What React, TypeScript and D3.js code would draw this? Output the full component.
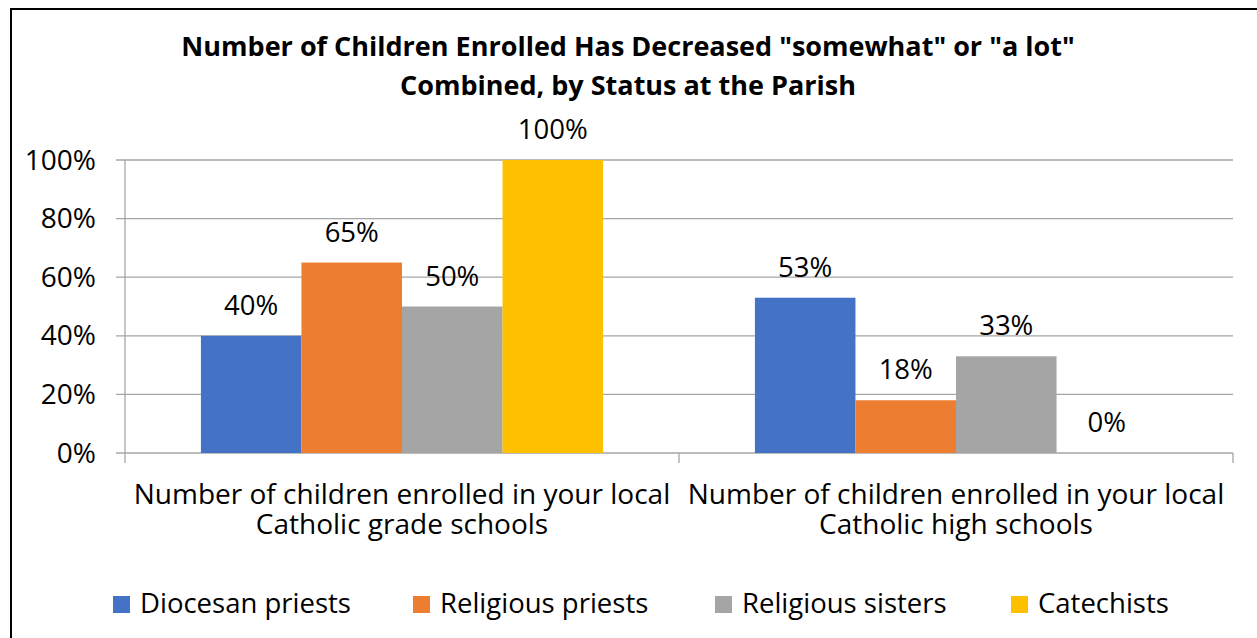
import React from "react";
import * as d3 from "d3";

const categories = [
  ["Number of children enrolled in your local", "Catholic grade schools"],
  ["Number of children enrolled in your local", "Catholic high schools"],
];
const seriesNames = ["Diocesan priests", "Religious priests", "Religious sisters", "Catechists"];
const seriesColors = ["#4472C4", "#ED7D31", "#A5A5A5", "#FFC000"];
const diocesanPriests = [0.40, 0.53];
const religiousPriests = [0.65, 0.18];
const religiousSisters = [0.50, 0.33];
const catechists = [1.00, 0.00];
const seriesValues = [diocesanPriests, religiousPriests, religiousSisters, catechists];
const yTicks = [0, 0.2, 0.4, 0.6, 0.8, 1.0];
const titleLines = [
  'Number of Children Enrolled Has Decreased "somewhat" or "a lot"',
  "Combined, by Status at the Parish",
];

const W = 1257;
const H = 638;
const FONT = "'Open Sans', 'Noto Sans', sans-serif";

export default function App() {
  const x0 = d3.scaleBand<number>().domain(d3.range(categories.length)).range([125, 1233]).paddingInner(0).paddingOuter(0);
  const x1 = d3
    .scaleBand<number>()
    .domain(d3.range(seriesNames.length))
    .range([0, x0.bandwidth()])
    .paddingInner(0)
    .paddingOuter(0.755);
  const y = d3.scaleLinear().domain([0, 1]).range([453, 160]);
  const pct = d3.format(".0%");
  const legendX = [113, 413, 715, 1011];

  return (
    <div style={{ position: "fixed", left: 0, top: 0, width: W, height: H, background: "#fff" }}>
      <svg width={W} height={H} style={{ display: "block" }}>
        <rect x={0} y={0} width={W} height={H} fill="#fff" />
        <rect x={11} y={9} width={W + 20} height={H + 20} fill="none" stroke="#000" strokeWidth={2} />
        {/* title */}
        <text x={628} y={56} textAnchor="middle" fontFamily={FONT} fontWeight="bold" fontSize={27} fill="#000">
          {titleLines.map((t, i) => (
            <tspan key={i} x={628} dy={i === 0 ? 0 : 39}>
              {t}
            </tspan>
          ))}
        </text>
        {/* gridlines */}
        {yTicks.map((t) => (
          <line key={t} x1={116} x2={1233} y1={y(t)} y2={y(t)} stroke="#A6A6A6" strokeWidth={1.3} />
        ))}
        {/* value axis line */}
        <line x1={125} x2={125} y1={y(1)} y2={y(0)} stroke="#A6A6A6" strokeWidth={1.3} />
        {/* category ticks */}
        {d3.range(categories.length + 1).map((i) => {
          const xx = i < categories.length ? (x0(i) as number) : 1233;
          return <line key={i} x1={xx} x2={xx} y1={y(0)} y2={y(0) + 10} stroke="#A6A6A6" strokeWidth={1.3} />;
        })}
        {/* y tick labels */}
        {yTicks.map((t) => (
          <text key={t} x={96} y={y(t) + 9.5} textAnchor="end" fontFamily={FONT} fontSize={28} fill="#000">
            {pct(t)}
          </text>
        ))}
        {/* bars */}
        {categories.map((_, ci) =>
          seriesValues.map((vals, si) => {
            const bx = (x0(ci) as number) + (x1(si) as number);
            const v = vals[ci];
            return (
              <g key={`${ci}-${si}`}>
                {v > 0 && <rect x={bx} y={y(v)} width={x1.bandwidth()} height={y(0) - y(v)} fill={seriesColors[si]} />}
                <text x={bx + x1.bandwidth() / 2} y={y(v) - 21} textAnchor="middle" fontFamily={FONT} fontSize={27.5} fill="#000">
                  {pct(v)}
                </text>
              </g>
            );
          })
        )}
        {/* category labels */}
        {categories.map((lines, ci) => (
          <text key={ci} y={504} textAnchor="middle" fontFamily={FONT} fontSize={28} fill="#000">
            {lines.map((l, li) => (
              <tspan key={li} x={(x0(ci) as number) + x0.bandwidth() / 2} dy={li === 0 ? 0 : 30}>
                {l}
              </tspan>
            ))}
          </text>
        ))}
        {/* legend */}
        {seriesNames.map((n, i) => (
          <g key={n}>
            <rect x={legendX[i]} y={596} width={17} height={17} fill={seriesColors[i]} />
            <text x={legendX[i] + 27} y={613} fontFamily={FONT} fontSize={27.5} fill="#000">
              {n}
            </text>
          </g>
        ))}
      </svg>
    </div>
  );
}
